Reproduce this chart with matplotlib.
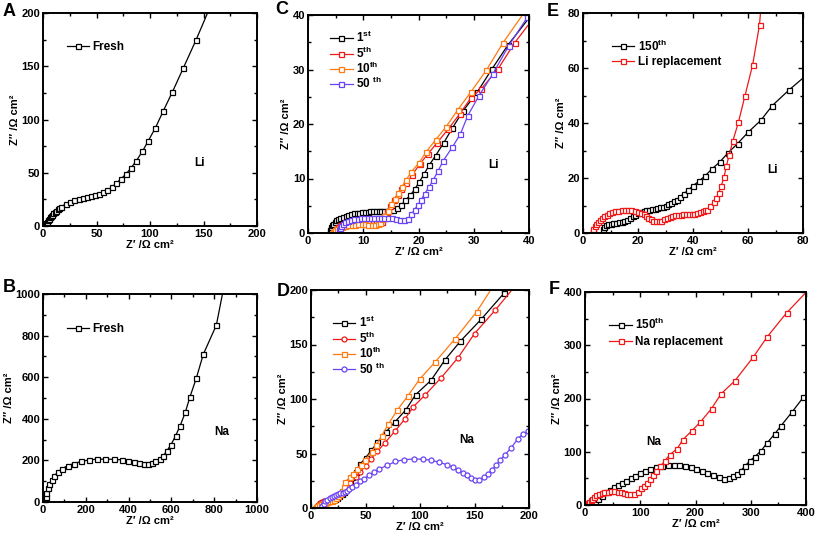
import matplotlib
matplotlib.use("Agg")
import matplotlib.pyplot as plt
from matplotlib.ticker import MultipleLocator

plt.rcParams['font.family'] = ['Liberation Sans', 'DejaVu Sans']
plt.rcParams['font.weight'] = 'bold'
plt.rcParams['axes.labelweight'] = 'bold'
plt.rcParams['mathtext.fontset'] = 'custom'
plt.rcParams['mathtext.rm'] = 'Liberation Sans:bold'
plt.rcParams['mathtext.it'] = 'Liberation Sans:bold'
plt.rcParams['mathtext.bf'] = 'Liberation Sans:bold'

# ---------------- data ----------------
# A: Li fresh
A_x = [1.8, 2.0, 2.3, 2.7, 3.2, 3.8, 4.7, 5.5, 6.2, 7.2, 8.4, 9.6, 10.9, 12.3, 13.7, 15.3, 17.1, 21.1, 25.2, 29.2, 33.2,
       37.0, 41.0, 44.7, 48.8, 52.8, 56.5, 60.2, 64.3, 68.3, 72.7, 77.3, 82.0, 87.3, 92.9, 98.4, 105.0, 112.4,
       121.0, 131.0, 143.0, 158.0]
A_y = [0.0, 0.6, 1.3, 2.2, 3.1, 4.2, 5.6, 6.9, 8.0, 9.3, 10.6, 11.9, 13.1, 14.4, 15.6, 16.8, 18.3, 20.4, 22.4, 24.0, 25.3,
       26.3, 27.2, 28.0, 29.0, 30.0, 31.7, 33.5, 36.4, 40.0, 44.0, 48.6, 54.0, 61.4, 70.0, 80.0, 92.0, 108.0,
       126.0, 148.0, 174.6, 210.0]

# B: Na fresh
B_x = [8, 10, 12, 16, 22, 30, 40, 53, 70, 90, 115, 145, 179, 215, 251, 291, 332, 368, 399, 427, 450, 471, 490,
       508, 525, 545, 562, 578, 598, 620, 641, 665, 686, 716, 749, 810, 850]
B_y = [0, 10, 25, 45, 65, 85, 105, 125, 145, 160, 175, 185, 195, 202, 206, 206, 205, 203, 199, 194, 189, 185, 184,
       188, 195, 206, 222, 245, 275, 319, 367, 431, 503, 594, 710, 850, 1060]

# C: Li cycles
C1_x = [4.0, 4.05, 4.1, 4.2, 4.35, 4.55, 4.8, 5.1, 5.45, 5.85, 6.3, 6.8, 7.3, 7.8, 8.3, 8.8, 9.3, 9.8, 10.3, 10.8,
        11.3, 11.8, 12.3, 12.8, 13.3, 13.8, 14.3, 14.8, 15.4, 16.1, 16.9, 17.6, 18.5, 19.3, 20.1, 21.0, 21.9, 23.1,
        24.6, 26.1, 28.0, 30.6, 33.3, 36.2, 40.5]
C1_y = [0.2, 0.5, 0.8, 1.1, 1.4, 1.7, 2.0, 2.3, 2.55, 2.8, 3.0, 3.2, 3.35, 3.5, 3.6, 3.7, 3.75, 3.8, 3.85, 3.9,
        3.95, 3.95, 3.95, 3.95, 3.95, 3.95, 4.0, 4.15, 4.3, 4.5, 5.1, 6.0, 6.9, 8.0, 9.3, 10.8, 12.4, 14.2,
        16.6, 19.2, 22.3, 25.8, 30.1, 34.5, 40.1]
C5_x = [4.8, 4.9, 5.1, 5.4, 5.8, 6.3, 6.9, 7.5, 8.1, 8.7, 9.3, 9.9, 10.5, 11.1, 11.7, 12.3, 12.9, 13.4, 13.9, 14.3,
        14.8, 15.5, 16.2, 16.9, 17.8, 18.9, 20.2, 21.7, 23.4, 25.4, 27.5, 29.5, 31.4, 34.4, 37.4, 40.5]
C5_y = [0.2, 0.5, 0.8, 1.1, 1.4, 1.65, 1.85, 2.0, 2.1, 2.15, 2.15, 2.1, 2.0, 1.9, 1.8, 1.75, 1.8, 2.1, 2.8, 3.8,
        4.9, 6.1, 7.0, 8.0, 9.1, 10.7, 12.6, 14.5, 16.6, 19.1, 21.9, 24.8, 26.5, 30.1, 34.9, 39.0]
C10_x = [4.6, 4.7, 4.9, 5.2, 5.6, 6.1, 6.7, 7.3, 7.9, 8.5, 9.1, 9.7, 10.3, 10.9, 11.5, 12.1, 12.6, 13.0, 13.4,
         13.8, 14.4, 15.1, 15.7, 16.3, 17.0, 17.8, 18.7, 20.1, 21.4, 23.1, 25.0, 27.1, 29.5, 32.3, 35.3, 39.5]
C10_y = [0.1, 0.3, 0.5, 0.7, 0.9, 1.1, 1.3, 1.4, 1.5, 1.55, 1.6, 1.6, 1.6, 1.55, 1.5, 1.5, 1.6, 1.9, 2.5, 3.2,
         4.1, 5.4, 6.3, 7.3, 8.5, 9.8, 11.2, 12.9, 14.9, 17.1, 19.5, 22.6, 25.9, 29.9, 34.9, 41.0]
C50_x = [5.7, 5.8, 6.0, 6.3, 6.7, 7.2, 7.8, 8.4, 9.0, 9.6, 10.2, 10.8, 11.4, 12.0, 12.6, 13.2, 13.8, 14.4, 15.2,
         16.0, 16.7, 17.4, 18.1, 18.7, 19.3, 19.9, 20.5, 21.1, 21.9, 22.7, 23.5, 24.5, 26.1, 27.6, 28.9, 30.9,
         33.4, 36.3, 39.7, 40.5]
C50_y = [0.5, 0.9, 1.3, 1.65, 1.95, 2.2, 2.4, 2.55, 2.65, 2.72, 2.78, 2.8, 2.82, 2.82, 2.82, 2.82, 2.8, 2.75, 2.7,
         2.5, 2.3, 2.3, 2.6, 3.4, 4.3, 5.2, 6.1, 7.2, 8.4, 9.8, 11.3, 13.3, 15.7, 18.2, 21.5, 25.1,
         29.1, 34.3, 39.6, 40.7]

# D: Na cycles
D1_x = [6.5, 7, 7.5, 8.5, 10, 12, 14, 16, 18, 20, 22, 24, 26, 28, 30, 32, 34, 36, 38, 41, 45, 50, 55.5, 61, 68.5,
        77, 87, 96, 110, 123, 137, 156, 177, 190]
D1_y = [0, 1.5, 3, 4.5, 5.5, 6.2, 6.5, 6.8, 7.2, 7.8, 8.6, 9.6, 10.9, 12.5, 14.5, 17, 21, 25, 28.5, 33, 40, 46, 53,
        60.5, 69.5, 79, 90, 104, 117, 136, 153, 173, 197, 213]
D5_x = [5, 5.5, 6.5, 8, 10, 12, 14, 16, 18, 20, 22, 24, 26, 28, 30, 32, 36, 41, 45, 50, 55, 61, 68, 77, 86, 94,
        105, 119, 135, 150, 169, 190]
D5_y = [0, 1.5, 3, 4.5, 5.5, 6, 6, 6, 6.2, 6.8, 7.8, 9.2, 11, 13, 15, 17.5, 22.5, 28, 33, 38.5, 45, 52, 60, 70.5,
        81.5, 93, 104, 119, 138, 160, 181.5, 207]
D10_x = [4, 4.5, 5.5, 7, 9, 11, 13, 15, 17, 19, 21, 23, 25, 27, 28.5, 30, 31.2, 35.8, 38.5, 41.9, 45.5, 49.5,
         55.7, 60, 65, 71, 79, 89, 100, 114, 132, 152, 168]
D10_y = [0, 1, 2, 3, 4, 4.5, 5, 5.5, 6, 6.5, 7.5, 9, 11, 13, 15.5, 19, 24.1, 28.1, 31.5, 35.5, 39.5, 44,
         51.7, 58, 66.5, 77, 89.6, 103, 118.6, 134, 155, 180, 205]
D50_x = [10, 10.5, 11.5, 13, 15, 17, 19, 21, 23, 25, 27, 29, 31, 33, 35, 37.2, 40.9, 44.8, 48.8, 53, 57.6, 62.8,
         69.8, 77.4, 85.7, 94.2, 102.4, 110, 117.5, 124.4, 130, 135, 139, 143, 147, 150.5, 154.3, 158.5, 162,
         165.9, 169.5, 173.5, 178, 183.5, 189.6, 194.5, 199.4]
D50_y = [0, 2, 4, 6, 7.5, 8.8, 10, 11, 12, 12.8, 13.5, 14.2, 15, 16, 17.5, 19.2, 21.3, 24.4, 26.8, 29.9, 32.9, 36,
         39, 42.7, 44.3, 45, 44.8, 43.8, 42, 39.8, 37.5, 35, 32.5, 30, 27.5, 25.8, 25.8, 28, 31,
         34.8, 39, 43.6, 49, 54.9, 63.4, 68, 70.4]

# E: Li 150th vs replacement
E150_x = [7.2, 7.6, 8.2, 9, 10, 11, 12, 13, 14, 15, 16, 17, 18, 19, 20, 21, 22, 23, 24, 25, 26, 27, 28, 29, 30,
          31, 32, 33, 34.2, 35.4, 36.6, 38.2, 39.9, 42.1, 44.4, 46.9, 49.7, 52.7, 56.2, 60, 64.7, 68.8, 74.8, 81]
E150_y = [1.5, 2.2, 2.8, 3.2, 3.4, 3.6, 3.7, 3.9, 4.1, 4.4, 4.9, 5.5, 6.1, 6.7, 7.2, 7.6, 7.9, 8.2, 8.4, 8.6,
          8.8, 9.0, 9.3, 9.6, 10.0, 10.5, 11.0, 11.6, 12.1, 13.2, 14.3, 15.5, 17.1, 18.8, 20.8, 23.3, 25.8, 29.1,
          32.5, 36.6, 41.0, 46.3, 51.9, 57.2]
ELi_x = [3.5, 3.6, 3.8, 4.2, 4.7, 5.3, 6.0, 6.8, 7.7, 8.6, 9.6, 10.6, 11.7, 12.8, 14.0, 15.2, 16.4, 17.6, 18.8,
         20.0, 21.1, 22.1, 23.0, 23.8, 24.6, 25.5, 26.5, 27.5, 28.5, 29.5, 30.5, 31.5, 32.5, 33.5, 34.5, 35.5,
         36.5, 37.5, 38.5, 39.5, 40.5, 41.5, 42.5, 43.5, 44.3, 45.1, 46.3, 47.5, 48.5, 49.3, 50.3, 51.3, 52.1,
         53.1, 54.5, 56.5, 58.9, 61.7, 64.2, 65.0]
ELi_y = [0.3, 0.9, 1.6, 2.4, 3.2, 4.0, 4.8, 5.5, 6.1, 6.7, 7.2, 7.6, 7.9, 8.1, 8.3, 8.3, 8.3, 8.2, 8.0, 7.7, 7.3,
         6.8, 6.2, 5.6, 5.0, 4.5, 4.2, 4.2, 4.5, 5.0, 5.5, 5.9, 6.2, 6.4, 6.6, 6.7, 6.8, 6.8, 6.9, 6.9, 7.0,
         7.2, 7.5, 7.9, 8.2, 8.5, 9.7, 11.2, 12.7, 14.5, 17.2, 20.4, 24.2, 28.2, 33.5, 40.2, 49.9, 61.2, 75.8, 86]

# F: Na 150th vs replacement
F150_x = [12.7, 14.5, 18.7, 23.6, 30, 37.5, 44.7, 52, 59, 67, 75, 83.4, 91.2, 100.3, 109.4, 118.4, 129, 139.6,
          150, 160.7, 171, 181, 191, 201, 211, 221, 232, 242, 251, 260, 268, 275.5, 281.6, 289, 298.5, 307.5,
          319, 329, 343, 355, 375, 395, 410]
F150_y = [0, 2, 6.3, 11.3, 17.5, 23.8, 28.8, 33, 37.5, 41.9, 45.6, 50, 55, 60, 63.8, 67.5, 70.6, 72.5, 74.4, 75,
          75, 74, 70.6, 67.5, 64, 60, 56, 52, 49, 50, 54, 58, 64, 72.5, 83, 91, 102, 116, 133, 149, 175, 202, 218]
FNa_x = [5, 6, 8, 10, 13, 16, 20, 25, 30, 35, 41, 47, 53, 59, 65, 71, 76, 82, 89.4, 96, 101, 106, 112.4, 117, 123,
         129, 136.6, 144, 153, 167, 177, 193, 209, 229, 246.5, 271, 304, 330, 365, 410]
FNa_y = [0, 3, 6, 9, 12, 15, 18, 20.5, 22.5, 24, 25, 25.5, 25.5, 25, 24, 22.5, 21, 20, 21, 25, 31, 36, 41, 49, 56,
         64, 72.5, 82, 94, 106, 122.5, 139, 156, 181, 209, 233, 277, 316, 361, 410]

BLACK = '#000000'
RED = '#f01818'
ORANGE = '#ff7a10'
PURPLE = '#6a44f2'

fig = plt.figure(figsize=(8.17, 5.38), dpi=100)

def mkax(rect, lim, major, minor, letter, lpos):
    ax = fig.add_axes(rect)
    ax.set_xlim(0, lim)
    ax.set_ylim(0, lim)
    ax.xaxis.set_major_locator(MultipleLocator(major))
    ax.yaxis.set_major_locator(MultipleLocator(major))
    ax.xaxis.set_minor_locator(MultipleLocator(minor))
    ax.yaxis.set_minor_locator(MultipleLocator(minor))
    ax.tick_params(which='both', direction='in', top=True, right=True, labelsize=8, width=1.0, pad=2)
    ax.tick_params(which='major', length=3.5)
    ax.tick_params(which='minor', length=2)
    for lab in ax.get_xticklabels() + ax.get_yticklabels():
        lab.set_fontweight('bold')
    for s in ax.spines.values():
        s.set_linewidth(1.4)
    ax.set_xlabel('Z\u2032 /\u03a9 cm\u00b2', fontsize=8, fontweight='bold', labelpad=1)
    ax.set_ylabel('Z\u2033 /\u03a9 cm\u00b2', fontsize=8, fontweight='bold', labelpad=1)
    fig.text(lpos[0] / 817, 1 - lpos[1] / 538, letter, fontsize=13, fontweight='bold', ha='left', va='center')
    return ax

def series(ax, x, y, color, marker, label):
    ax.plot(x, y, color=color, lw=0.9, marker=marker, ms=3.6, mfc='white', mec=color, mew=0.9,
            label=label, clip_on=True)

def leg(ax, anchor, spacing=0.35):
    ax.legend(loc='upper left', bbox_to_anchor=anchor, frameon=False, fontsize=8.5, handlelength=1.9,
              handletextpad=0.3, labelspacing=spacing, borderaxespad=0, borderpad=0)

W, H = 817.0, 538.0
def rect(l, t, r, b):
    return [l / W, 1 - b / H, (r - l) / W, (b - t) / H]

# A
axA = mkax(rect(43, 13, 257, 226), 200, 50, 25, 'A', (3, 12))
series(axA, A_x, A_y, BLACK, 's', 'Fresh')
leg(axA, (0.11, 0.87))
axA.text(146.6, 59, 'Li', fontsize=8.5, fontweight='bold', ha='center', va='center')

# B
axB = mkax(rect(43, 294, 257, 502), 1000, 200, 100, 'B', (3, 288))
series(axB, B_x, B_y, BLACK, 's', 'Fresh')
leg(axB, (0.11, 0.86))
axB.text(834, 335, 'Na', fontsize=8.5, fontweight='bold', ha='center', va='center')

# C
axC = mkax(rect(308, 15, 529, 233), 40, 10, 5, 'C', (275, 9))
series(axC, C1_x, C1_y, BLACK, 's', '1$^{st}$')
series(axC, C5_x, C5_y, RED, 's', '5$^{th}$')
series(axC, C10_x, C10_y, ORANGE, 's', '10$^{th}$')
series(axC, C50_x, C50_y, PURPLE, 's', '50 $^{th}$')
leg(axC, (0.1, 0.93), spacing=0.0)
axC.text(33.5, 12.5, 'Li', fontsize=8.5, fontweight='bold', ha='center', va='center')

# D
axD = mkax(rect(311, 290, 529, 508), 200, 50, 25, 'D', (277, 291))
series(axD, D1_x, D1_y, BLACK, 's', '1$^{st}$')
series(axD, D5_x, D5_y, RED, 'o', '5$^{th}$')
series(axD, D10_x, D10_y, ORANGE, 's', '10$^{th}$')
series(axD, D50_x, D50_y, PURPLE, 'o', '50 $^{th}$')
leg(axD, (0.1, 0.885), spacing=0.02)
axD.text(143, 62, 'Na', fontsize=8.5, fontweight='bold', ha='center', va='center')

# E
axE = mkax(rect(583, 13, 803, 233), 80, 20, 10, 'E', (547, 12))
series(axE, E150_x, E150_y, BLACK, 's', '150$^{th}$')
series(axE, ELi_x, ELi_y, RED, 's', 'Li replacement')
leg(axE, (0.13, 0.885), spacing=0.2)
axE.text(69, 22.8, 'Li', fontsize=8.5, fontweight='bold', ha='center', va='center')

# F
axF = mkax(rect(585, 292, 806, 505), 400, 100, 50, 'F', (549, 290))
series(axF, F150_x, F150_y, BLACK, 's', '150$^{th}$')
series(axF, FNa_x, FNa_y, RED, 's', 'Na replacement')
leg(axF, (0.11, 0.885), spacing=0.4)
axF.text(124.5, 119, 'Na', fontsize=8.5, fontweight='bold', ha='center', va='center')

fig.savefig('out.png', dpi=100)
